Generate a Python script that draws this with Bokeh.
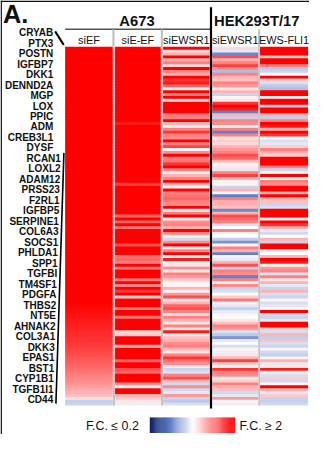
from bokeh.plotting import figure
from bokeh.models import Range1d
from bokeh.embed import file_html
from bokeh.resources import INLINE
from bokeh.core.properties import value

# ---------------- data ----------------
genes = ["CRYAB", "PTX3", "POSTN", "IGFBP7", "DKK1", "DENND2A", "MGP", "LOX", "PPIC",
         "ADM", "CREB3L1", "DYSF", "RCAN1", "LOXL2", "ADAM12", "PRSS23", "F2RL1",
         "IGFBP5", "SERPINE1", "COL6A3", "SOCS1", "PHLDA1", "SPP1", "TGFBI", "TM4SF1",
         "PDGFA", "THBS2", "NT5E", "AHNAK2", "COL3A1", "DKK3", "EPAS1", "BST1",
         "CYP1B1", "TGFB1I1", "CD44"]
conditions = ["siEF", "siE-EF", "siEWSR1", "siEWSR1", "EWS-FLI1"]
cell_lines = ["A673", "HEK293T/17"]
legend_low = "F.C. \u2264 0.2"
legend_high = "F.C. \u2265 2"

# log2 fold change per row (rows top -> bottom)
a673_siEF = [5.2, 5.0, 4.8, 4.7, 4.5, 4.4, 4.3, 4.1, 4.0, 3.9,
             3.8, 3.7, 3.6, 3.5, 3.45, 3.4, 3.3, 3.25, 3.2, 3.1,
             3.05, 3.0, 2.95, 2.9, 2.85, 2.8, 2.75, 2.7, 2.65, 2.6,
             2.56, 2.52, 2.48, 2.44, 2.4, 2.36, 2.32, 2.28, 2.24, 2.2,
             2.17, 2.14, 2.11, 2.08, 2.05, 2.02, 1.99, 1.96, 1.93, 1.9,
             1.87, 1.84, 1.81, 1.78, 1.75, 1.72, 1.69, 1.66, 1.63, 1.6,
             1.58, 1.56, 1.54, 1.52, 1.5, 1.48, 1.46, 1.44, 1.42, 1.4,
             1.38, 1.36, 1.34, 1.32, 1.3, 1.28, 1.26, 1.24, 1.22, 1.2,
             1.18, 1.16, 1.14, 1.12, 1.1, 1.08, 1.06, 1.04, 1.02, 0.98,
             0.96, 0.95, 0.93, 0.92, 0.9, 0.89, 0.87, 0.86, 0.84, 0.83,
             0.81, 0.8, 0.78, 0.76, 0.74, 0.72, 0.7, 0.67, 0.65, 0.62,
             0.6, 0.57, 0.54, 0.51, 0.48, 0.45, 0.42, 0.38, 0.34, 0.3,
             0.25, 0.12, -0.45, -0.4]
a673_siE_EF = [2.1, 2.3, 1.9, 2.0, 2.2, 1.8, 2.4, 2.0, 1.9, 2.1,
               1.7, 2.2, 2.0, 1.9, 1.8, 2.3, 2.0, 1.6, 2.1, 1.9,
               2.0, 1.8, 2.2, 1.7, 1.9, 2.0, 0.9, 1.8, 2.0, 1.7,
               1.9, 2.1, 1.6, 1.8, 2.0, 1.9, 1.7, 1.5, 1.9, 2.0,
               1.8, 1.6, 1.7, 1.9, 1.5, 1.8, 1.6, 0.75, 1.7, 1.5,
               1.8, 1.6, 1.4, 1.7, 1.9, 1.5, 1.6, 1.4, 0.6, 1.3,
               0.6, 1.5, 0.55, 1.4, 1.6, 1.3, 1.5, 1.2, 0.7, 1.4,
               1.3, 1.5, 0.55, 0.6, 0.5, 1.3, 0.5, 1.4, 1.2, 1.3,
               0.55, 1.3, 0.5, 1.2, 0.8, 1.4, 0.2, 1.3, 1.5, 1.2,
               0.5, 1.3, 1.4, 0.55, 1.2, 1.5, 1.3, 1.4, 0.15, 0.2,
               1.3, 1.2, 1.4, 0.3, 1.5, 1.3, 1.2, 1.4, 0.6, 1.3,
               1.2, 0.7, 0.6, 1.4, 1.2, 1.3, 0.45, 0.05, 1.2, 1.3,
               0.3, 0.2, 0.1, -0.15]
a673_siEWSR1 = [1.2, 0.15, 0.3, 1.1, 0.3, 0.5, 0.15, 1.0, 0.5, 0.3,
                1.1, 0.8, 0.9, 0.6, 0.05, 1.1, 0.5, 1.0, 0.15, 1.2,
                1.4, 1.1, 1.0, 0.55, 0.5, 1.1, 0.3, 0.05, 0.5, 0.8,
                0.5, 0.45, 1.0, 0.5, 0.75, -0.1, 0.45, 1.0, 0.5, 0.55,
                0.8, 1.0, 0.5, 0.05, 0.3, 0.5, 1.0, 0.3, 0.05, 1.1,
                0.5, 0.55, 0.6, 0.5, 0.45, 1.0, 0.05, 0.5, 1.0, 0.1,
                0.45, 0.5, 0.3, 1.0, 0.5, 0.05, -0.35, 0.45, 1.0, 0.05,
                0.5, 1.0, 0.05, 0.9, 0.05, 0.1, 0.45, 0.1, 0.5, 0.4,
                0.2, 0.05, 0.05, 0.3, 0.05, 0.4, 0.7, 0.1, 0.3, 0.6,
                0.7, 0.5, 0.1, 0.5, 0.3, 0.1, 0.5, 0.1, 0.9, 0.1,
                0.25, 0.3, 0.45, 0.5, 0.3, 0.1, 0.5, 0.8, 0.55, 0.45,
                0.1, -0.4, -0.3, 0.5, 0.7, 0.3, -0.35, 0.45, -0.35, -0.2,
                0.4, -0.4, -0.5, -0.3]
hek_siEWSR1 = [0.15, -0.2, -1.1, 0.7, 0.3, 0.5, 0.75, 0.45, -0.6, 0.5,
               0.3, 0.25, 0.5, 0.4, 0.1, 0.3, -0.4, 0.05, 0.1, 0.8,
               1.0, 0.9, -1.2, 0.3, -0.45, 0.5, 0.45, 0.05, 0.5, -1.2,
               0.5, 0.1, 0.2, 0.15, 0.3, 0.4, 0.5, 0.7, 0.6, 0.3,
               0.05, 0.1, -0.2, 0.5, 0.75, 0.3, 0.05, 0.05, -0.4, 0.3,
               0.05, -1.2, 0.5, 0.3, 0.3, 0.25, -1.1, 0.3, 0.7, 0.6,
               0.5, -0.3, 0.0, 0.5, 0.05, 0.0, -0.45, -1.0, 0.05, 0.5,
               0.3, -1.2, 0.05, -0.2, 0.3, 0.7, -0.4, 0.5, 0.45, -1.2,
               0.5, 0.05, 0.45, -0.4, -0.3, 0.0, 0.2, 0.55, 0.05, -0.2,
               -0.45, -0.2, 0.05, 0.0, 0.1, 0.25, 0.5, 0.4, -0.3, -0.5,
               -1.0, -0.2, 0.0, -0.3, 0.05, -0.15, 0.1, 0.3, 0.75, 0.2,
               0.05, 0.8, 0.5, 0.45, 0.05, 0.2, 0.5, 0.3, 0.25, -0.35,
               -0.2, 0.4, 0.05, -0.15]
hek_EWS_FLI1 = [1.3, 1.5, 1.2, 0.2, 1.1, 1.0, 0.5, -0.5, -0.4, 0.05,
                1.1, 0.2, -0.3, -0.5, -0.6, 1.2, 1.0, 0.05, 1.1, 1.3,
                -0.45, 1.0, 1.2, 0.3, -0.45, 0.5, 1.1, 0.9, 0.3, 1.0,
                0.8, 0.0, -0.3, -0.2, 0.2, 0.5, 0.3, 0.2, 1.0, 1.2,
                1.0, 0.5, -0.4, 0.05, 1.1, 0.05, 0.5, 0.45, 1.0, 1.1,
                0.3, 1.0, 0.3, 0.25, -0.4, -0.3, 1.1, 1.3, 1.0, 0.05,
                1.0, 0.8, 0.3, -0.2, -0.35, 0.0, 0.3, -0.4, 1.0, 1.1,
                -0.2, 0.0, 0.3, 1.0, 0.9, 0.05, 0.4, 0.5, -0.25, 0.5,
                0.1, 0.3, -0.2, -0.4, 0.3, -0.3, -0.4, 0.05, -0.3, -0.2,
                0.05, 1.1, -0.3, -0.4, -0.2, 1.2, 1.0, 0.2, -0.3, 0.3,
                -0.45, 0.25, -0.3, -0.4, 0.05, -0.35, -0.45, 0.05, 0.3, -0.2,
                0.1, 0.9, 0.05, -0.3, 0.2, -0.35, 0.05, 1.1, 0.3, -0.2,
                0.2, -0.4, -0.45, -0.35]

columns = [a673_siEF, a673_siE_EF, a673_siEWSR1, hek_siEWSR1, hek_EWS_FLI1]

LOW = -2.3219   # log2(0.2)
HIGH = 1.0      # log2(2)


def mix(c1, c2, t):
    return tuple(round(a + (b - a) * t) for a, b in zip(c1, c2))


def fc_color(v):
    if v >= 0:
        t = min(v / HIGH, 1.0)
        c = mix((255, 255, 255), (255, 0, 0), t)
    else:
        t = min(v / LOW, 1.0)
        if t <= 0.5:
            c = mix((255, 255, 255), (100, 130, 205), t / 0.5)
        else:
            c = mix((100, 130, 205), (14, 32, 98), (t - 0.5) / 0.5)
    return "#%02x%02x%02x" % c


# ---------------- layout (reference pixel coordinates) ----------------
col_left = [68.0, 120.5, 171.0, 222.7, 273.0]
col_right = [118.0, 168.5, 220.0, 271.0, 323.5]
heat_top, heat_bottom = 48.0, 420.0
FS = 0.955

p = figure(width=309, height=434, x_range=Range1d(0, 325), y_range=Range1d(450, 0),
           output_backend="svg", toolbar_location=None, min_border=0)
p.axis.visible = False
p.grid.visible = False
p.outline_line_color = None
p.background_fill_color = "white"
p.border_fill_color = "white"

# frame edges
p.quad(left=[0, 0], right=[1.5, 325], top=[0, 0], bottom=[450, 1.5],
       fill_color="#111111", line_color=None)

# gray gaps between columns
p.quad(left=[118.0, 168.5, 271.0], right=[120.5, 171.0, 273.0],
       top=[heat_top] * 3, bottom=[heat_bottom] * 3,
       fill_color="#c4c4c4", line_color=None)

# heatmap cells (each cell overlaps the next slightly to hide seams)
n = len(a673_siEF)
rh = (heat_bottom - heat_top) / n
L, R, T, B, C = [], [], [], [], []
for j, col in enumerate(columns):
    for i, v in enumerate(col):
        L.append(col_left[j])
        R.append(col_right[j])
        T.append(heat_top + i * rh)
        B.append(heat_top + (i + 1) * rh + (0.8 if i < n - 1 else 0.0))
        C.append(fc_color(v))
p.quad(left=L, right=R, top=T, bottom=B, fill_color=C, line_color=None)

# header lines
p.segment(x0=[68], y0=[29.8], x1=[221], y1=[29.8], line_color="#555555", line_width=1.5)
p.segment(x0=[118.8, 169.7, 272.0], y0=[30, 30, 30], x1=[118.8, 169.7, 272.0],
          y1=[heat_top] * 3, line_color="#bdbdbd", line_width=2)
# divider between cell lines
p.segment(x0=[221.4], y0=[7], x1=[221.4], y1=[423], line_color="black", line_width=2.2)

# column headers
centers = [(a + b) / 2 for a, b in zip(col_left, col_right)]
p.text(x=centers, y=[40.5] * 5, text=conditions, text_font=value("Liberation Sans"),
       text_font_size=value("%.1fpx" % (11.4 * FS)), text_align="center",
       text_baseline="middle", text_color="#111111")
p.text(x=[143.5, 269.5], y=[21.5, 21.5], text=cell_lines, text_font=value("Liberation Sans"),
       text_font_style="bold", text_font_size=value("%.1fpx" % (15.5 * FS)),
       text_align="center", text_baseline="middle", text_color="#111111")
p.text(x=[2.5], y=[14], text=["A."], text_font=value("Liberation Sans"),
       text_font_style="bold", text_font_size=value("%.1fpx" % (26.5 * FS)),
       text_align="left", text_baseline="middle", text_color="#111111")

# gene labels
line_x0, line_y0, line_x1, line_y1 = 66.7, 158.0, 58.3, 418.0
gy = [33.3 + i * 10.87 for i in range(len(genes))]
gx = []
for i, y in enumerate(gy):
    if i < 12:
        gx.append(55.5)
    else:
        gx.append(line_x0 + (y - line_y0) * (line_x1 - line_x0) / (line_y1 - line_y0) - 3.0)
p.text(x=gx, y=gy, text=genes, text_font=value("Liberation Sans"), text_font_style="bold",
       text_font_size=value("%.1fpx" % (10.5 * FS)), text_align="right",
       text_baseline="middle", text_color="#111111")
p.segment(x0=[57.5, line_x0], y0=[32.0, line_y0], x1=[66.5, line_x1], y1=[46.0, line_y1],
          line_color="black", line_width=[2.0, 1.6])

# colour key
bar_l, bar_r, bar_t, bar_b = 157.0, 247.0, 432.5, 448.5
steps = 90
half = steps // 2
kl, kr, kc = [], [], []
for k in range(steps):
    if k < half:
        v = LOW * (1 - (k + 0.5) / half)
    else:
        v = HIGH * ((k - half + 0.5) / half)
    kl.append(bar_l + k * (bar_r - bar_l) / steps)
    kr.append(bar_l + (k + 1) * (bar_r - bar_l) / steps + (0.4 if k < steps - 1 else 0.0))
    kc.append(fc_color(v))
p.quad(left=kl, right=kr, top=[bar_t] * steps, bottom=[bar_b] * steps,
       fill_color=kc, line_color=None)
p.text(x=[145.5, 251.5], y=[441, 441], text=[legend_low, legend_high],
       text_font=value("Liberation Sans"), text_font_size=value("%.1fpx" % (13 * FS)),
       text_align=["right", "left"], text_baseline="middle", text_color="#111111")

open("out.html", "w").write(file_html(p, INLINE))
